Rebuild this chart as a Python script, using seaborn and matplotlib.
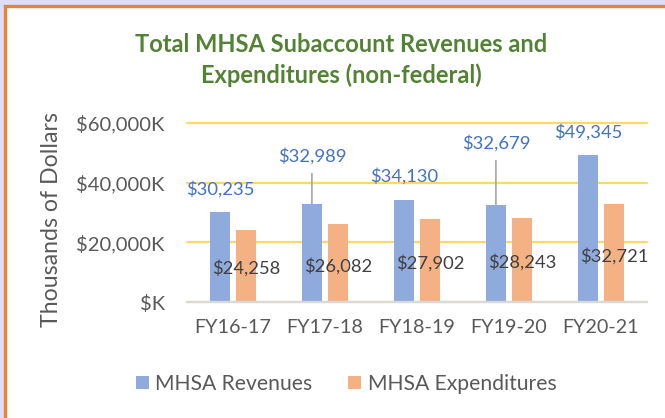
import pandas as pd
import seaborn as sns
import matplotlib.pyplot as plt
from matplotlib.patches import Rectangle
from matplotlib.ticker import FuncFormatter

# Chart data (thousands of dollars)
years = ['FY16-17', 'FY17-18', 'FY18-19', 'FY19-20', 'FY20-21']
revenues = [30235, 32989, 34130, 32679, 49345]
expenditures = [24258, 26082, 27902, 28243, 32721]
series_names = ['MHSA Revenues', 'MHSA Expenditures']

# Styling
sns.set_style('white')
plt.rcParams['font.family'] = ['Lato', 'DejaVu Sans']
palette = ['#8FAADC', '#F4B183']
grey_text = '#595959'
rev_label_up = [16, 34, 17, 44, 16]     # points above bar top
rev_leader = [False, True, False, True, False]

df = pd.DataFrame({
    'Year': years * 2,
    'Series': [series_names[0]] * len(years) + [series_names[1]] * len(years),
    'Value': revenues + expenditures,
})

fig = plt.figure(figsize=(6.65, 4.18), dpi=100, facecolor='#DEDEF8')
fig.patches.append(Rectangle((5.5 / 665, -0.05), 1.2, 1.05 - 6.5 / 418,
                             transform=fig.transFigure, facecolor='white',
                             edgecolor='#EE8232', linewidth=2.4, zorder=-5))

ax = fig.add_axes([187 / 665, 1 - 302 / 418, 460 / 665, 179 / 418])
ax.set_zorder(2)
ax.set_facecolor('none')
sns.barplot(data=df, x='Year', y='Value', hue='Series', palette=palette,
            width=0.57, gap=0.23, linewidth=0, saturation=1, ax=ax)

ax.set_ylim(0, 60000)
ax.set_yticks([0, 20000, 40000, 60000])
ax.yaxis.set_major_formatter(FuncFormatter(lambda v, p: f'${v:,.0f}K' if v else '$K'))
ax.grid(axis='y', color='#FFD966', linewidth=1.6)
for gl in ax.get_ygridlines():
    gl.set_clip_on(False)
ax.set_axisbelow(True)
for s in ['top', 'right', 'left']:
    ax.spines[s].set_visible(False)
ax.spines['bottom'].set_color('#D9D9D9')
ax.spines['bottom'].set_linewidth(1.6)
ax.spines['bottom'].set_zorder(3)
ax.tick_params(axis='y', length=0, pad=16, labelsize=14.5, labelcolor=grey_text)
ax.tick_params(axis='x', length=0, pad=12, labelsize=14.2, labelcolor=grey_text)
ax.set_xlabel('')
ax.set_ylabel('Thousands of Dollars', fontsize=16.7, color=grey_text)
ax.yaxis.label.set_va('center')
ax.yaxis.set_label_coords(-0.295, 0.46)

# Data labels
rev_bars, exp_bars = ax.containers[0], ax.containers[1]
for bar, up, lead in zip(rev_bars, rev_label_up, rev_leader):
    x = bar.get_x() + bar.get_width() / 2
    h = bar.get_height()
    arrow = dict(arrowstyle='-', color='#A6A6A6', lw=1.2, shrinkA=4, shrinkB=0) if lead else None
    ax.annotate(f'${h:,.0f}', xy=(x, h), xytext=(0, up), textcoords='offset points',
                ha='center', va='center', fontsize=13.2, color='#4472C4', arrowprops=arrow)
for bar in exp_bars:
    x = bar.get_x() + bar.get_width() / 2
    h = bar.get_height()
    ax.annotate(f'${h:,.0f}', xy=(x, h / 2), xytext=(0, -2), textcoords='offset points',
                ha='center', va='center', fontsize=13.2, color='#404040')

# Legend below the plot
leg = ax.get_legend()
handles = leg.legend_handles
labels = [t.get_text() for t in leg.get_texts()]
leg.remove()
fig.legend(handles, labels, loc='center', bbox_to_anchor=(346 / 665, 1 - 384 / 418),
           ncol=2, frameon=False, fontsize=15.2, labelcolor=grey_text,
           handlelength=0.62, handleheight=0.62, handletextpad=0.3, columnspacing=1.7)

fig.text(341 / 665, 1 - 60 / 418, 'Total MHSA Subaccount Revenues and\nExpenditures (non-federal)',
         ha='center', va='center', fontsize=17, fontweight='bold', color='#548235',
         linespacing=1.38)

fig.savefig('out.png', dpi=100, facecolor=fig.get_facecolor())
